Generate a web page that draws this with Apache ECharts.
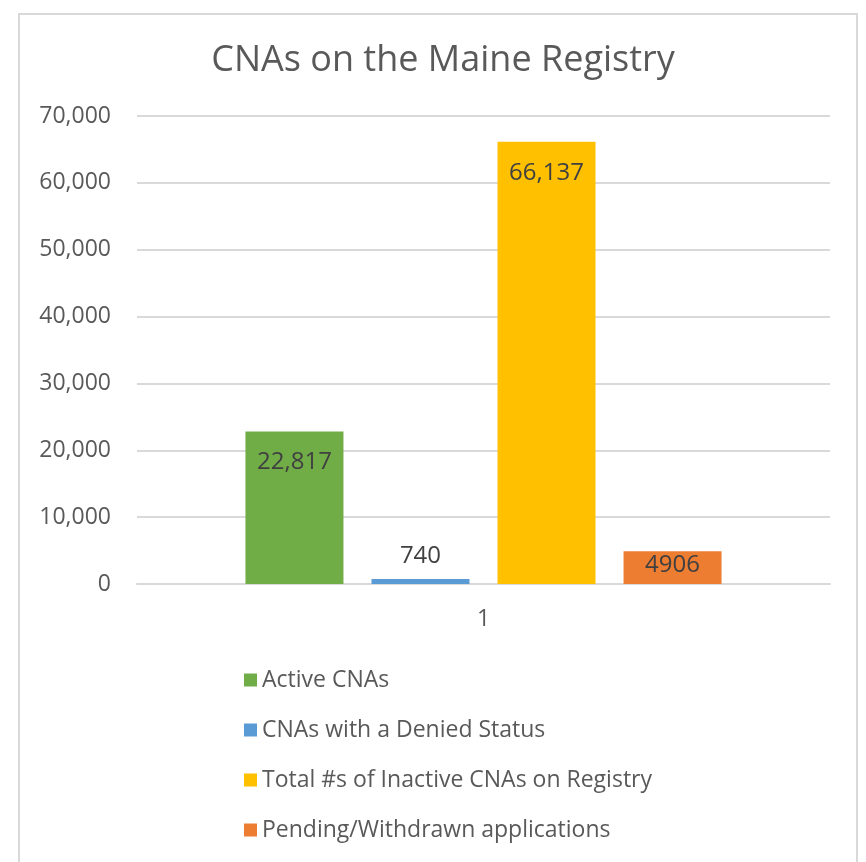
<!DOCTYPE html>
<html>
<head>
<meta charset="utf-8">
<script src="https://cdn.jsdelivr.net/npm/echarts@6/dist/echarts.min.js"></script>
<style>
  html, body { margin: 0; padding: 0; background: #fff; }
  #frame { position: absolute; left: 18px; top: 13px; width: 840px; height: 860px; border: 2px solid #d9d9d9; box-sizing: border-box; }
  #chart { width: 866px; height: 862px; }
</style>
</head>
<body>
<div id="frame"></div>
<div id="chart"></div>
<script>
const categories = ["1"];
const seriesNames = ["Active CNAs", "CNAs with a Denied Status", "Total #s of Inactive CNAs on Registry", "Pending/Withdrawn applications"];
const seriesValues = [22817, 740, 66137, 4906];
const labelTexts = ["22,817", "740", "66,137", "4906"]; // as printed on the chart
const colors = ["#70AD47", "#5B9BD5", "#FFC000", "#ED7D31"];

const myChart = echarts.init(document.getElementById("chart"));

const series = seriesNames.map((name, i) => {
  const v = seriesValues[i];
  let pos = "insideTop", dist = 19;
  if (v < 2000) { pos = "top"; dist = 11; }      // too small, label above
  else if (v < 10000) { dist = 2; }              // short bar, label squeezed in
  return {
    name: name,
    type: "bar",
    data: [v],
    barWidth: 98,
    barGap: "28.6%",
    itemStyle: { color: colors[i] },
    label: {
      show: true,
      position: pos,
      distance: dist,
      color: "#404040",
      fontSize: 24,
      fontFamily: "Open Sans",
      formatter: () => labelTexts[i]
    }
  };
});

myChart.setOption({
  animation: false,
  color: colors,
  title: {
    text: "CNAs on the Maine Registry",
    left: 438,
    top: 38,
    textAlign: "center",
    textStyle: { color: "#595959", fontSize: 36, fontWeight: "normal", fontFamily: "Open Sans" }
  },
  legend: {
    orient: "vertical",
    left: 239,
    top: 663,
    itemWidth: 13,
    itemHeight: 13,
    itemGap: 26,
    icon: "rect",
    textStyle: { color: "#595959", fontSize: 23, fontFamily: "Open Sans", lineHeight: 24 }
  },
  grid: { left: 137, right: 36, top: 116, bottom: 278, containLabel: false },
  xAxis: {
    type: "category",
    data: categories,
    axisLine: { lineStyle: { color: "#d9d9d9", width: 2 } },
    axisTick: { show: false },
    axisLabel: { color: "#595959", fontSize: 23, fontFamily: "Open Sans", margin: 24 }
  },
  yAxis: {
    type: "value",
    min: 0,
    max: 70000,
    interval: 10000,
    axisLine: { show: false },
    axisTick: { show: false },
    axisLabel: {
      color: "#595959", fontSize: 23, fontFamily: "Open Sans", margin: 26,
      formatter: v => v.toLocaleString("en-US")
    },
    splitLine: { lineStyle: { color: "#d9d9d9", width: 2 } }
  },
  series: series
});
</script>
</body>
</html>
